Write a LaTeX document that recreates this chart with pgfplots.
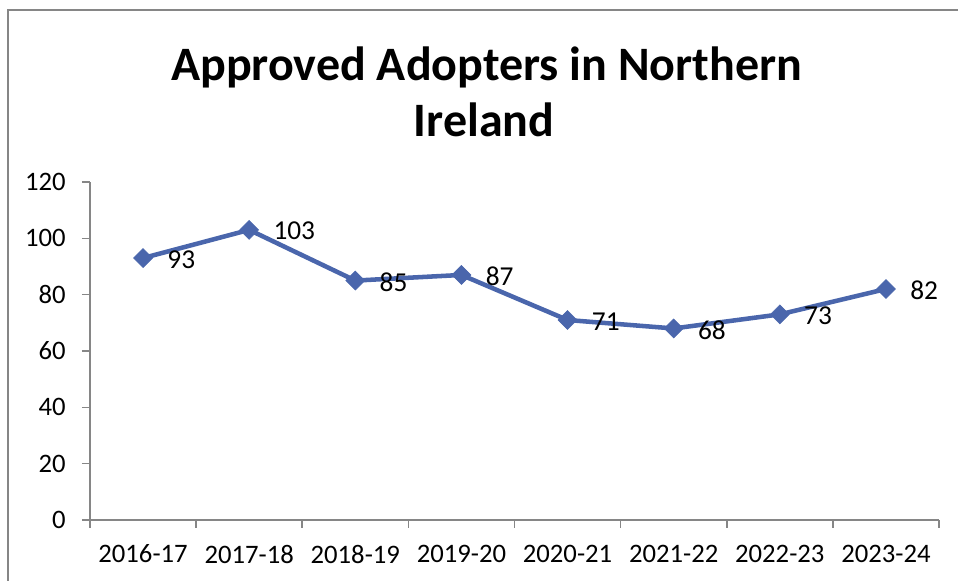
\documentclass[border=0pt]{standalone}
\usepackage{pgfplots}
\pgfplotsset{compat=1.18}
\usepackage{fontspec}
\setmainfont{Carlito}
\definecolor{ser}{RGB}{74,102,172}
\definecolor{axg}{RGB}{134,134,134}
\begin{document}
\begin{tikzpicture}[x=1pt,y=1pt]
\useasboundingbox (0,0) rectangle (718.5,435.75);
\draw[axg, line width=1.2pt] (6,-20) rectangle (740,428.25);
\node[anchor=base, font=\fontsize{36}{40}\selectfont\bfseries] at (365,375.5) {Approved Adopters in Northern};
\node[anchor=base, font=\fontsize{36}{40}\selectfont\bfseries] at (363,333.5) {Ireland};
\begin{axis}[
  at={(67.5pt,45.75pt)}, anchor=south west,
  scale only axis, width=636.75pt, height=253.5pt,
  xmin=0, xmax=8, ymin=0, ymax=120,
  axis x line=bottom, axis y line=left,
  axis line style={-, axg, line width=1.2pt},
  ytick={0,20,...,120},
  xtick={0.5,1.5,...,7.5},
  xticklabels={2016-17,2017-18,2018-19,2019-20,2020-21,2021-22,2022-23,2023-24},
  minor xtick={0,1,...,8},
  major x tick style={draw=none},
  minor x tick style={axg, line width=1.2pt},
  y tick style={axg, line width=1.2pt},
  tick align=outside,
  major tick length=6pt, minor tick length=6pt,
  ticklabel style={font=\fontsize{20}{24}\selectfont, inner sep=0pt},
  /pgf/number format/assume math mode=true,
  yticklabel style={xshift=-12pt},
  xticklabel style={yshift=-12.5pt},
  clip=false,
]
\addplot[ser, line width=3.4pt, mark=square*, mark size=5pt, mark options={rotate=45, fill=ser, draw=ser, line width=0.5pt},
  nodes near coords, point meta=explicit symbolic,
  every node near coord/.append style={anchor=west, xshift=18pt, yshift=-1pt, black, inner sep=0pt, font=\fontsize{20.5}{24}\selectfont}]
  table[meta=v] {
x y v
0.5 93 93
1.5 103 103
2.5 85 85
3.5 87 87
4.5 71 71
5.5 68 68
6.5 73 73
7.5 82 82
};
\end{axis}
\end{tikzpicture}
\end{document}
